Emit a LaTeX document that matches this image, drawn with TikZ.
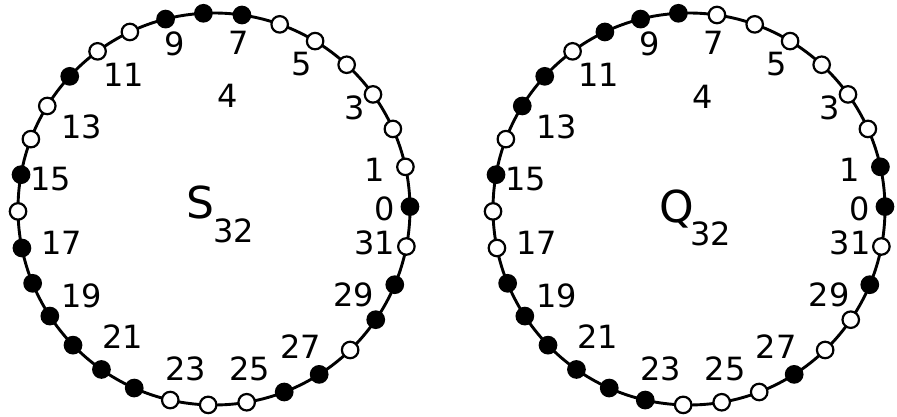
\documentclass[tikz,border=0pt]{standalone}
\usepackage{fontspec}
\setmainfont{DejaVu Sans}
\begin{document}
\begin{tikzpicture}[x=1pt,y=-1pt,
  ring/.style={line width=2.9pt},
  fdot/.style={circle,draw=black,fill=black,line width=2.2pt,minimum size=16.5pt,inner sep=0pt},
  odot/.style={circle,draw=black,fill=white,line width=2.2pt,minimum size=16.5pt,inner sep=0pt},
  lbl/.style={font=\fontsize{32}{32}\selectfont,inner sep=0pt},
  big/.style={font=\fontsize{44}{44}\selectfont,inner sep=0pt}]
\useasboundingbox (0,0) rectangle (897,417);
% centres
\coordinate (sc) at (214,209);
\coordinate (qc) at (689,209);
% rings
\draw[ring] (sc) circle[radius=196pt];
\draw[ring] (qc) circle[radius=196pt];
% dots of S32
\foreach \i/\st in {0/fdot,1/odot,2/odot,3/odot,4/odot,5/odot,6/odot,7/fdot,
  8/fdot,9/fdot,10/odot,11/odot,12/fdot,13/odot,14/odot,15/fdot,
  16/odot,17/fdot,18/fdot,19/fdot,20/fdot,21/fdot,22/fdot,23/odot,
  24/odot,25/odot,26/fdot,27/fdot,28/odot,29/fdot,30/fdot,31/odot} {
  \pgfmathsetmacro\ang{\i*11.25+0.7+2.4*sin(\i*11.25)}
  \node[\st] (sd\i) at ({214+196*cos(\ang)},{209-196*sin(\ang)}) {};
}
% dots of Q32
\foreach \i/\st in {0/fdot,1/fdot,2/odot,3/odot,4/odot,5/odot,6/odot,7/odot,
  8/fdot,9/fdot,10/fdot,11/odot,12/fdot,13/fdot,14/odot,15/fdot,
  16/odot,17/odot,18/fdot,19/fdot,20/fdot,21/fdot,22/fdot,23/fdot,
  24/odot,25/odot,26/odot,27/fdot,28/odot,29/odot,30/fdot,31/odot} {
  \pgfmathsetmacro\ang{\i*11.25+0.7+2.4*sin(\i*11.25)}
  \node[\st] (qd\i) at ({689+196*cos(\ang)},{209-196*sin(\ang)}) {};
}
% labels
\foreach \t/\dx/\dy in {0/171/0,1/161/-39,3/141/-101,5/88/-145,7/25/-166,9/-39/-165,
  11/-90/-134,13/-132/-82,15/-163/-30,17/-152/34,19/-132/87,21/-91/128,
  23/-28/160,25/36/160,27/87/138,29/140/86,31/161/34} {
  \node[lbl] (sl\t) at ({214+(\dx)},{209+(\dy)}) {\t};
  \node[lbl] (ql\t) at ({689+(\dx)},{209+(\dy)}) {\t};
}
\node[lbl] (sfour) at (228,96) {4};
\node[lbl] (qfour) at (703,97) {4};
% names
\node[big,anchor=base] (sname) at (200,218) {S};
\node[lbl,anchor=base west] (ssub) at (213,242) {32};
\node[big,anchor=base] (qname) at (677,222) {Q};
\node[lbl,anchor=base west] (qsub) at (690,245) {32};
\end{tikzpicture}
\end{document}
